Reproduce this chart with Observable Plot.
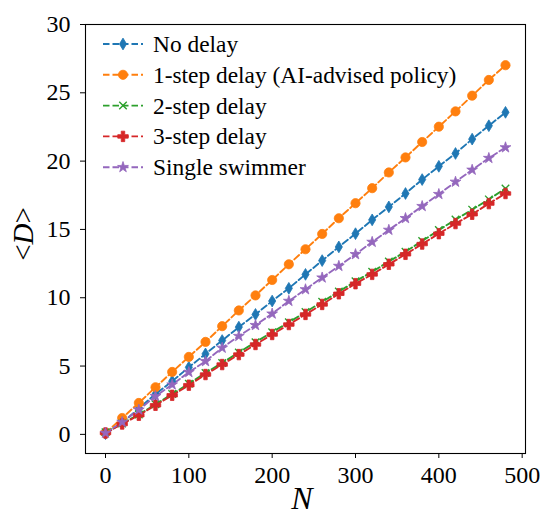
<!DOCTYPE html>
<html>
<head>
<meta charset="utf-8">
<script src="https://cdn.jsdelivr.net/npm/d3@7"></script>
<script src="https://cdn.jsdelivr.net/npm/@observablehq/plot@0.6"></script>
<style>
  html, body { margin: 0; padding: 0; background: white; }
  #chart { width: 544px; height: 516px; }
</style>
</head>
<body>
<div id="chart"></div>
<script>
const N = [0, 20, 40, 60, 80, 100, 120, 140, 160, 180, 200, 220, 240, 260, 280, 300, 320, 340, 360, 380, 400, 420, 440, 460, 480];

const noDelay = [0.05, 0.85, 1.9, 2.95, 3.89, 4.91, 5.89, 6.87, 7.85, 8.78, 9.76, 10.69, 11.71, 12.72, 13.72, 14.69, 15.7, 16.65, 17.63, 18.65, 19.62, 20.56, 21.61, 22.59, 23.57];
const oneStep = [0.1, 1.2, 2.3, 3.45, 4.57, 5.67, 6.77, 7.92, 9.07, 10.17, 11.3, 12.45, 13.55, 14.67, 15.82, 16.92, 18.02, 19.17, 20.27, 21.4, 22.52, 23.64, 24.79, 25.94, 27.02];
const twoStep = [0.15, 0.8, 1.45, 2.2, 2.95, 3.7, 4.5, 5.23, 6.0, 6.75, 7.48, 8.2, 8.95, 9.7, 10.45, 11.2, 11.9, 12.65, 13.37, 14.15, 14.95, 15.72, 16.45, 17.2, 18.0];
const threeStep = [0.1, 0.76, 1.4, 2.13, 2.86, 3.6, 4.38, 5.11, 5.84, 6.58, 7.31, 8.04, 8.78, 9.51, 10.29, 11.03, 11.71, 12.45, 13.18, 13.93, 14.69, 15.43, 16.11, 16.89, 17.63];
const single = [0.1, 0.9, 1.8, 2.79, 3.64, 4.55, 5.35, 6.33, 7.19, 7.99, 8.83, 9.76, 10.61, 11.47, 12.32, 13.18, 14.08, 14.96, 15.82, 16.7, 17.58, 18.48, 19.36, 20.22, 21.0];

const seriesNames = ["No delay", "1-step delay (AI-advised policy)", "2-step delay", "3-step delay", "Single swimmer"];
const seriesColors = ["#1f77b4", "#ff7f0e", "#2ca02c", "#d62728", "#9467bd"];
const xTicks = [0, 100, 200, 300, 400, 500];
const yTicks = [0, 5, 10, 15, 20, 25, 30];

const FONT = "'Liberation Serif', 'Times New Roman', serif";
const DASH = "6.5,3";
const LW = 1.9;

// custom marker shape: matplotlib thin diamond
const thinDiamond = {
  draw(ctx, size) {
    const r = Math.sqrt(size / Math.PI);
    const h = r * 1.4, w = r * 0.85;
    ctx.moveTo(0, -h); ctx.lineTo(w, 0); ctx.lineTo(0, h); ctx.lineTo(-w, 0); ctx.closePath();
  }
};
const seriesValues = [noDelay, oneStep, twoStep, threeStep, single];
const seriesSymbols = [thinDiamond, d3.symbolCircle, d3.symbolTimes, d3.symbolCross, d3.symbolStar];
const seriesR = [4.2, 4.6, 3.5, 4.4, 3.4];
const seriesStrokeOnly = [false, false, true, false, false];

const data = [];
seriesNames.forEach((name, i) => {
  N.forEach((n, j) => data.push({series: name, idx: i, N: n, D: seriesValues[i][j]}));
});

const marks = [
  Plot.axisX({ticks: xTicks, tickSize: 5, tickPadding: 7, label: null, fontSize: 24}),
  Plot.axisY({ticks: yTicks, tickSize: 5, tickPadding: 10, label: null, fontSize: 24}),
];
seriesNames.forEach((name, i) => {
  const d = data.filter(p => p.idx === i);
  marks.push(Plot.line(d, {x: "N", y: "D", stroke: seriesColors[i], strokeWidth: LW, strokeDasharray: DASH}));
});
seriesNames.forEach((name, i) => {
  const d = data.filter(p => p.idx === i);
  if (seriesStrokeOnly[i]) {
    marks.push(Plot.dot(d, {x: "N", y: "D", symbol: seriesSymbols[i], r: seriesR[i], stroke: seriesColors[i], strokeWidth: 1.4, fill: "none"}));
  } else {
    marks.push(Plot.dot(d, {x: "N", y: "D", symbol: seriesSymbols[i], r: seriesR[i], fill: seriesColors[i], stroke: seriesColors[i], strokeWidth: 0.8}));
  }
});
marks.push(Plot.frame({stroke: "black", strokeWidth: 1.1}));

const plot = Plot.plot({
  width: 544,
  height: 516,
  marginLeft: 85,
  marginRight: 19,
  marginTop: 24,
  marginBottom: 63,
  x: {domain: [-24, 504]},
  y: {domain: [-1.4, 30]},
  style: {fontSize: "24px", color: "black", background: "white"},
  marks
});
document.getElementById("chart").appendChild(plot);

const svg = d3.select(plot);
svg.attr("font-family", FONT);
svg.selectAll("text").attr("font-family", FONT);

// axis labels
const yl = svg.append("text")
  .attr("transform", "translate(23,234) rotate(-90)")
  .attr("text-anchor", "middle")
  .attr("dominant-baseline", "central")
  .attr("font-family", FONT)
  .attr("font-size", 29)
  .attr("fill", "black");
yl.append("tspan").text("<");
yl.append("tspan").attr("font-style", "italic").text("D");
yl.append("tspan").text(">");

svg.append("text")
  .attr("x", 302).attr("y", 509)
  .attr("text-anchor", "middle")
  .attr("font-family", FONT)
  .attr("font-style", "italic")
  .attr("font-size", 32)
  .attr("fill", "black")
  .text("N");

// legend
const lg = svg.append("g");
seriesNames.forEach((name, i) => {
  const y = 44 + i * 30.8;
  const g = lg.append("g");
  g.append("line").attr("x1", 103).attr("x2", 143).attr("y1", y).attr("y2", y)
    .attr("stroke", seriesColors[i]).attr("stroke-width", LW).attr("stroke-dasharray", DASH);
  const size = Math.PI * seriesR[i] * seriesR[i];
  const p = g.append("path").attr("d", d3.symbol(seriesSymbols[i], size)()).attr("transform", `translate(123,${y})`);
  if (seriesStrokeOnly[i]) p.attr("fill", "none").attr("stroke", seriesColors[i]).attr("stroke-width", 1.4);
  else p.attr("fill", seriesColors[i]).attr("stroke", seriesColors[i]).attr("stroke-width", 0.8);
  g.append("text").attr("x", 153).attr("y", y).attr("dominant-baseline", "central")
    .attr("text-anchor", "start")
    .attr("font-family", FONT).attr("font-size", 23.4).attr("fill", "black")
    .text(name);
});
</script>
</body>
</html>
